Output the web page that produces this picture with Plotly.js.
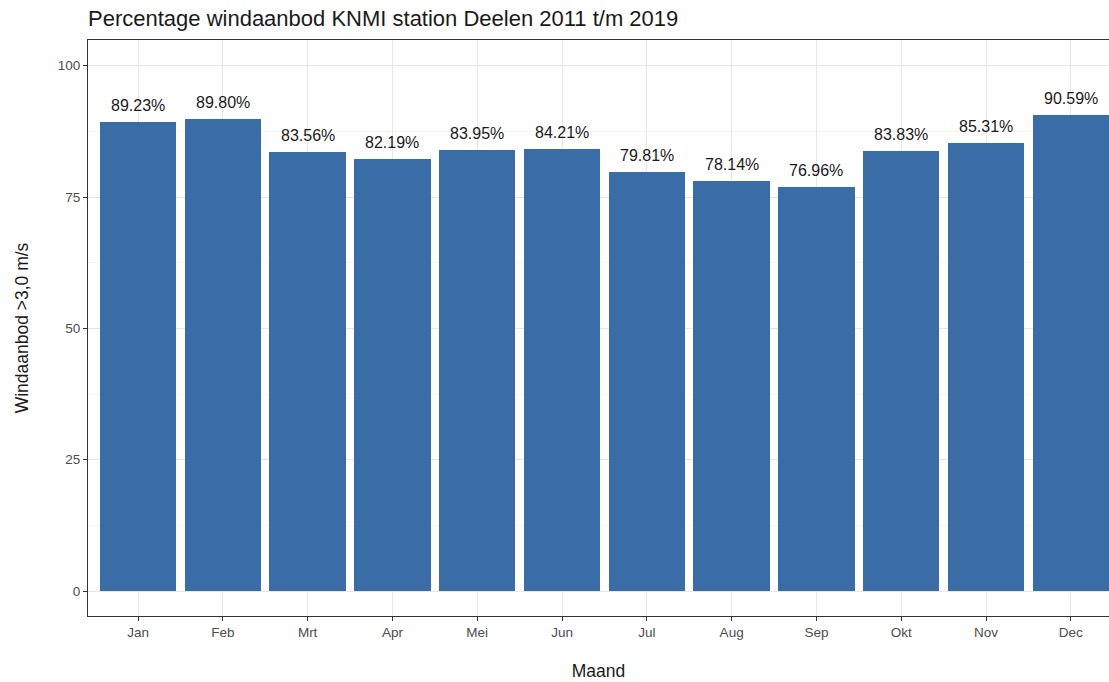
<!DOCTYPE html>
<html>
<head>
<meta charset="utf-8">
<script src="https://cdn.plot.ly/plotly-3.0.1.min.js"></script>
<style>html,body{margin:0;padding:0;background:#fff;}#chart{width:1109px;height:682px;}</style>
</head>
<body>
<div id="chart"></div>
<script>
const months = ["Jan","Feb","Mrt","Apr","Mei","Jun","Jul","Aug","Sep","Okt","Nov","Dec"];
const values = [89.23, 89.80, 83.56, 82.19, 83.95, 84.21, 79.81, 78.14, 76.96, 83.83, 85.31, 90.59];
const yTicks = [0, 25, 50, 75, 100];

const FONT = "Liberation Sans, Arial, Helvetica, sans-serif";

const trace = {
  type: "bar",
  x: months,
  y: values,
  width: 0.9,
  marker: {color: "#3a6ca5", line: {width: 0}},
  hoverinfo: "x+y"
};

const annotations = months.map((m, i) => ({
  x: m, y: values[i], xref: "x", yref: "y",
  text: values[i].toFixed(2) + "%",
  showarrow: false, yanchor: "bottom", yshift: 6,
  font: {family: FONT, size: 16, color: "#1a1a1a"}
}));

const layout = {
  width: 1109, height: 682,
  margin: {l: 88, r: 0, t: 40, b: 66, pad: 0},
  paper_bgcolor: "#ffffff", plot_bgcolor: "#ffffff",
  font: {family: FONT},
  showlegend: false,
  bargap: 0,
  title: {
    text: "Percentage windaanbod KNMI station Deelen 2011 t/m 2019",
    font: {family: FONT, size: 22, color: "#1a1a1a"},
    xref: "container", yref: "container",
    x: 88/1109, xanchor: "left",
    y: 1 - 18/682, yanchor: "middle"
  },
  xaxis: {
    type: "category",
    range: [-0.59, 11.45],
    showline: true, mirror: true, linecolor: "#333333", linewidth: 1,
    ticks: "outside", ticklen: 4, tickcolor: "#333333", tickwidth: 1,
    showgrid: true, gridcolor: "#e6e6e6", gridwidth: 1,
    tickfont: {family: FONT, size: 13.5, color: "#4d4d4d"},
    title: {text: "Maand", font: {family: FONT, size: 17.5, color: "#1a1a1a"}, standoff: 25},
    zeroline: false, fixedrange: true
  },
  yaxis: {
    range: [-4.75, 104.9],
    tickvals: yTicks,
    ticktext: yTicks.map(String),
    showline: true, mirror: false, linecolor: "#333333", linewidth: 1,
    ticks: "outside", ticklen: 4, tickcolor: "#333333", tickwidth: 1,
    showgrid: true, gridcolor: "#e6e6e6", gridwidth: 1,
    minor: {tickvals: [12.5, 37.5, 62.5, 87.5], showgrid: true, gridcolor: "#efefef", gridwidth: 0.6, ticks: ""},
    zeroline: false,
    tickfont: {family: FONT, size: 13.5, color: "#4d4d4d"},
    title: {text: "Windaanbod >3,0 m/s", font: {family: FONT, size: 17.5, color: "#1a1a1a"}, standoff: 24},
    fixedrange: true
  },
  annotations: annotations
};

Plotly.newPlot("chart", [trace], layout, {displayModeBar: false, staticPlot: true});
</script>
</body>
</html>
